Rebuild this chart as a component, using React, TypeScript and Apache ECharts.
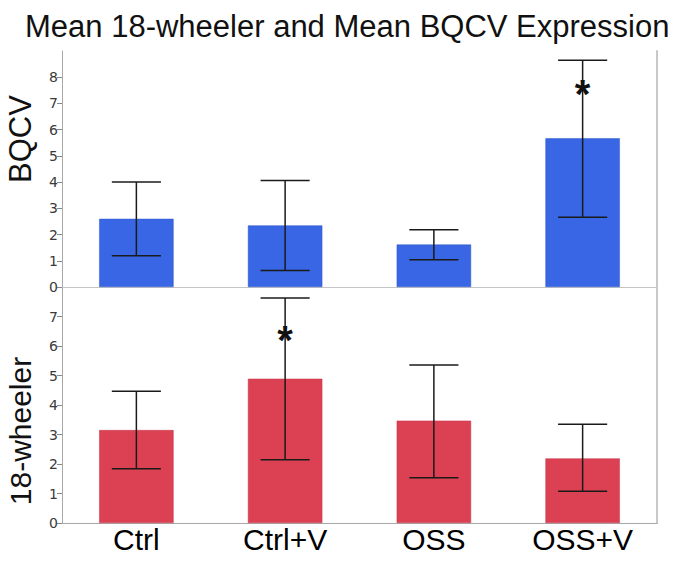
import React, { useEffect, useRef } from "react";
import * as echarts from "echarts";

const categories = ["Ctrl", "Ctrl+V", "OSS", "OSS+V"];
const bqcvMean = [2.6, 2.35, 1.62, 5.67];
const bqcvLow = [1.19, 0.63, 1.04, 2.66];
const bqcvHigh = [4.0, 4.06, 2.18, 8.65];
const bqcvStar = [null, null, null, 7.35];
const wheelerMean = [3.15, 4.89, 3.47, 2.19];
const wheelerLow = [1.84, 2.14, 1.53, 1.08];
const wheelerHigh = [4.47, 7.63, 5.36, 3.35];
const wheelerStar = [null, 6.2, null, null];
const bqcvTicks = [0, 1, 2, 3, 4, 5, 6, 7, 8];
const wheelerTicks = [0, 1, 2, 3, 4, 5, 6, 7];

const FONT = "Liberation Sans, Arial, sans-serif";

function errorItem(params: any, api: any) {
  const x = api.value(0);
  const lo = api.coord([x, api.value(1)]);
  const hi = api.coord([x, api.value(2)]);
  const band = api.size([1, 0])[0];
  const hw = band * 0.165;
  const style = { stroke: "#1a1a1a", lineWidth: 1.5 };
  return {
    type: "group",
    children: [
      { type: "line", shape: { x1: lo[0], y1: lo[1], x2: hi[0], y2: hi[1] }, style },
      { type: "line", shape: { x1: hi[0] - hw, y1: hi[1], x2: hi[0] + hw, y2: hi[1] }, style },
      { type: "line", shape: { x1: lo[0] - hw, y1: lo[1], x2: lo[0] + hw, y2: lo[1] }, style },
    ],
  };
}

function starItem(params: any, api: any) {
  const v = api.value(1);
  if (v == null || isNaN(v)) return null;
  const p = api.coord([api.value(0), v]);
  return {
    type: "text",
    style: {
      text: "*",
      x: p[0],
      y: p[1],
      align: "center",
      verticalAlign: "middle",
      fontSize: 40,
      fontWeight: "bold",
      fontFamily: FONT,
      fill: "#111",
    },
  };
}

export default function App() {
  const ref = useRef<HTMLDivElement>(null);
  useEffect(() => {
    document.body.style.margin = "0";
    const chart = echarts.init(ref.current!, null, { renderer: "svg" });
    const yLabel = { fontSize: 14, color: "#3a3a3a", fontFamily: "DejaVu Sans, sans-serif", margin: 4 };
    const grids = [
      { left: 62, right: 18, top: 51, height: 236 },
      { left: 62, right: 18, top: 287, height: 236 },
    ];
    chart.setOption({
      animation: false,
      backgroundColor: "#fff",
      title: {
        text: "Mean 18-wheeler and Mean BQCV Expression",
        left: 20,
        top: 6,
        textStyle: { fontSize: 31, fontWeight: "normal", color: "#111", fontFamily: FONT },
      },
      grid: grids,
      xAxis: [
        {
          type: "category",
          data: categories,
          gridIndex: 0,
          axisLine: { lineStyle: { color: "#dedede" } },
          axisTick: { show: false },
          axisLabel: { show: false },
        },
        {
          type: "category",
          data: categories,
          gridIndex: 1,
          axisLine: { lineStyle: { color: "#a8a8a8", width: 1 } },
          axisTick: { show: false },
          axisLabel: { fontSize: 30, color: "#000", fontFamily: FONT, margin: 1 },
        },
        {
          type: "category",
          data: categories,
          gridIndex: 0,
          position: "top",
          axisLine: { lineStyle: { color: "#c4c4c4" } },
          axisTick: { show: false },
          axisLabel: { show: false },
        },
      ],
      yAxis: [
        {
          type: "value",
          gridIndex: 0,
          min: 0,
          max: 9,
          interval: 1,
          splitLine: { show: false },
          axisLine: { show: true, lineStyle: { color: "#a8a8a8" } },
          axisTick: { show: true, length: 5, lineStyle: { color: "#888" }, customValues: bqcvTicks },
          axisLabel: { ...yLabel, customValues: bqcvTicks },
        },
        {
          type: "value",
          gridIndex: 1,
          min: 0,
          max: 8,
          interval: 1,
          splitLine: { show: false },
          axisLine: { show: true, lineStyle: { color: "#a8a8a8" } },
          axisTick: { show: true, length: 5, lineStyle: { color: "#888" }, customValues: wheelerTicks },
          axisLabel: { ...yLabel, customValues: wheelerTicks },
        },
        {
          type: "value",
          gridIndex: 0,
          position: "right",
          min: 0,
          max: 9,
          splitLine: { show: false },
          axisLine: { show: true, lineStyle: { color: "#c8c8c8", width: 2 } },
          axisTick: { show: false },
          axisLabel: { show: false },
        },
        {
          type: "value",
          gridIndex: 1,
          position: "right",
          min: 0,
          max: 8,
          splitLine: { show: false },
          axisLine: { show: true, lineStyle: { color: "#c8c8c8", width: 2 } },
          axisTick: { show: false },
          axisLabel: { show: false },
        },
      ],
      graphic: [
        {
          type: "text",
          x: 20,
          y: 139,
          rotation: Math.PI / 2,
          style: { text: "BQCV", fontSize: 31, fontFamily: FONT, fill: "#111", align: "center", verticalAlign: "middle" },
        },
        {
          type: "text",
          x: 20,
          y: 431,
          rotation: Math.PI / 2,
          style: { text: "18-wheeler", fontSize: 30, fontFamily: FONT, fill: "#111", align: "center", verticalAlign: "middle" },
        },
      ],
      series: [
        {
          type: "bar",
          xAxisIndex: 0,
          yAxisIndex: 0,
          data: bqcvMean,
          barWidth: "50%",
          itemStyle: { color: "#3866e4", borderColor: "#2f57c8", borderWidth: 0.5 },
        },
        {
          type: "bar",
          xAxisIndex: 1,
          yAxisIndex: 1,
          data: wheelerMean,
          barWidth: "50%",
          itemStyle: { color: "#dc4053", borderColor: "#c33446", borderWidth: 0.5 },
        },
        {
          type: "custom",
          xAxisIndex: 0,
          yAxisIndex: 0,
          renderItem: errorItem,
          data: categories.map((_, i) => [i, bqcvLow[i], bqcvHigh[i]]),
          z: 5,
        },
        {
          type: "custom",
          xAxisIndex: 1,
          yAxisIndex: 1,
          renderItem: errorItem,
          data: categories.map((_, i) => [i, wheelerLow[i], wheelerHigh[i]]),
          z: 5,
        },
        {
          type: "custom",
          xAxisIndex: 0,
          yAxisIndex: 0,
          renderItem: starItem,
          data: categories.map((_, i) => [i, bqcvStar[i] ?? NaN]),
          z: 6,
        },
        {
          type: "custom",
          xAxisIndex: 1,
          yAxisIndex: 1,
          renderItem: starItem,
          data: categories.map((_, i) => [i, wheelerStar[i] ?? NaN]),
          z: 6,
        },
      ],
    });
    return () => chart.dispose();
  }, []);
  return <div ref={ref} style={{ width: 675, height: 565 }} />;
}
